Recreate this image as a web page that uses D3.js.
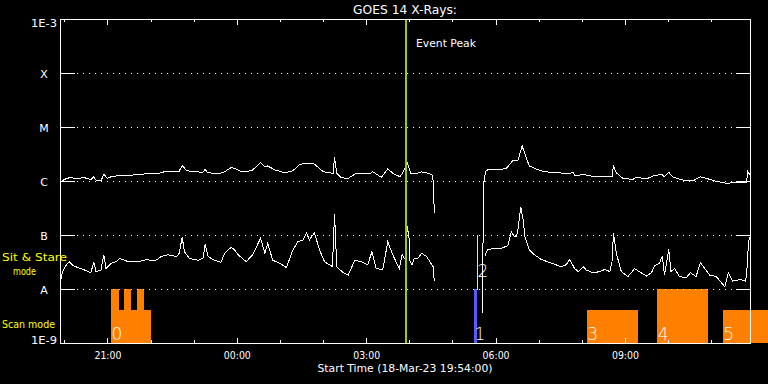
<!DOCTYPE html>
<html><head><meta charset="utf-8">
<script src="https://cdn.jsdelivr.net/npm/d3@7"></script>
<style>
html,body{margin:0;padding:0;background:#000;}
svg{display:block;}
text{font-family:"DejaVu Sans",sans-serif;fill:#fff;}
</style></head>
<body>
<script>
// ---------------- DATA ----------------
const chartTitle = "GOES 14 X-Rays:";
const xLabel = "Start Time (18-Mar-23 19:54:00)";
const startTime = "19:54", endTime = "11:54";
const tickLabels = ["21:00","00:00","03:00","06:00","09:00"];
const yTickValues = [1e-3,1e-4,1e-5,1e-6,1e-7,1e-8,1e-9];
const yTickLabels = ["1E-3","X","M","C","B","A","1E-9"];
const gridValues = [1e-4,1e-5,1e-6,1e-7,1e-8];

// GOES long channel (1-8 A), W/m^2 ; null = data gap
const longTime = ["19:55","20:00","20:07","20:19","20:28","20:37","20:41","20:44","20:51","20:55","21:00","21:05","21:17","21:29","21:42","21:52","22:06","22:15","22:22","22:31","22:40","22:44","22:50","23:01","23:13","23:16","23:19","23:29","23:36","23:43","23:52","23:57","00:04","00:13","00:22","00:33","00:39","00:43","00:53","01:07","01:18","01:28","01:37","01:48","02:00","02:14","02:16","02:19","02:25","02:35","02:46","03:05","03:09","03:21","03:30","03:37","03:47","03:51","03:57","03:58","04:02","04:07","04:17","04:26","04:32","04:33","04:34","04:35","05:00","05:42","05:43","05:46","05:49","06:08","06:15","06:20","06:24","06:31","06:37","06:43","06:47","06:57","07:08","07:22","07:41","07:48","07:50","08:04","08:11","08:30","08:42","08:44","08:48","08:57","09:11","09:16","09:30","09:39","09:51","09:55","10:01","10:07","10:21","10:35","10:45","10:53","11:07","11:21","11:35","11:49","11:51","11:54"];
const longFlux = [9.5e-7,1.07e-6,1.15e-6,1.12e-6,1.15e-6,1.07e-6,1.19e-6,1.04e-6,1.01e-6,1.33e-6,1.12e-6,1.20e-6,1.27e-6,1.27e-6,1.31e-6,1.35e-6,1.35e-6,1.42e-6,1.53e-6,1.53e-6,1.53e-6,1.95e-6,1.55e-6,1.49e-6,1.45e-6,1.67e-6,1.42e-6,1.39e-6,1.37e-6,1.49e-6,1.76e-6,1.72e-6,1.53e-6,1.47e-6,1.60e-6,2.18e-6,1.84e-6,1.90e-6,1.60e-6,1.42e-6,1.55e-6,2.04e-6,2.13e-6,2.06e-6,1.49e-6,1.39e-6,2.75e-6,1.39e-6,1.15e-6,1.12e-6,1.39e-6,1.35e-6,1.49e-6,1.17e-6,1.69e-6,1.39e-6,1.20e-6,1.42e-6,2.18e-6,1.98e-6,1.39e-6,1.35e-6,1.47e-6,1.39e-6,1.29e-6,1.04e-6,4.8e-7,2.6e-7,null,3.6e-9,8.1e-7,1.49e-6,1.60e-6,1.65e-6,1.72e-6,2.06e-6,2.38e-6,2.38e-6,4.45e-6,2.63e-6,1.90e-6,1.65e-6,1.49e-6,1.42e-6,1.39e-6,1.42e-6,1.27e-6,1.31e-6,1.24e-6,1.20e-6,1.20e-6,1.90e-6,1.42e-6,1.12e-6,1.07e-6,1.17e-6,1.09e-6,1.24e-6,1.33e-6,1.20e-6,1.45e-6,1.17e-6,1.04e-6,1.01e-6,1.20e-6,1.12e-6,9.9e-7,9.1e-7,9.3e-7,9.5e-7,1.49e-6,1.29e-6];

// GOES short channel (0.5-4 A), W/m^2 ; null = data gap
const shortTime = ["19:55","19:57","20:00","20:03","20:07","20:12","20:19","20:28","20:37","20:41","20:44","20:51","20:55","20:58","21:05","21:12","21:17","21:29","21:42","21:54","22:06","22:15","22:24","22:36","22:40","22:44","22:47","22:54","23:06","23:13","23:16","23:20","23:29","23:38","23:43","23:52","23:57","00:02","00:13","00:22","00:33","00:39","00:43","00:50","01:00","01:09","01:18","01:25","01:32","01:37","01:41","01:48","01:55","02:02","02:13","02:16","02:19","02:28","02:35","02:44","02:53","03:02","03:08","03:14","03:23","03:30","03:37","03:46","03:50","03:55","03:57","04:00","04:01","04:04","04:07","04:12","04:17","04:24","04:30","04:33","04:34","04:35","05:00","05:46","05:47","05:49","05:59","06:08","06:17","06:22","06:26","06:29","06:31","06:35","06:38","06:41","06:47","06:54","07:04","07:18","07:31","07:38","07:43","07:50","07:55","08:02","08:06","08:16","08:25","08:32","08:39","08:42","08:44","08:48","08:55","09:04","09:09","09:13","09:20","09:30","09:37","09:41","09:48","09:52","09:55","10:01","10:04","10:09","10:16","10:25","10:31","10:39","10:45","10:51","10:58","11:07","11:19","11:24","11:30","11:40","11:48","11:50","11:52","11:54"];
const shortFlux = [1.4e-8,2.0e-8,2.4e-8,2.8e-8,3.2e-8,2.7e-8,2.5e-8,2.25e-8,2.0e-8,3.2e-8,2.1e-8,2.25e-8,4.3e-8,2.4e-8,3.0e-8,3.2e-8,3.7e-8,3.2e-8,3.2e-8,3.5e-8,3.3e-8,4.0e-8,4.3e-8,4.0e-8,4.6e-8,9.3e-8,4.9e-8,3.7e-8,3.4e-8,3.7e-8,6.8e-8,4.0e-8,3.4e-8,3.1e-8,4.6e-8,5.9e-8,5.3e-8,4.3e-8,3.2e-8,4.3e-8,8.7e-8,4.6e-8,7.0e-8,3.4e-8,3.0e-8,2.5e-8,5.3e-8,7.5e-8,8.1e-8,1.1e-7,8.1e-8,1.1e-7,5.3e-8,3.2e-8,2.6e-8,2.45e-7,2.6e-8,2.0e-8,1.8e-8,3.4e-8,3.2e-8,2.8e-8,4.9e-8,2.4e-8,2.25e-8,7.5e-8,4.3e-8,2.4e-8,4.3e-8,3.4e-8,1.47e-7,8.1e-8,3.2e-8,2.8e-8,3.7e-8,3.7e-8,4.6e-8,4.0e-8,3.0e-8,2.6e-8,1.7e-8,1.4e-8,null,4.0e-8,4.9e-8,5.3e-8,5.7e-8,5.7e-8,6.3e-8,1.15e-7,9.3e-8,9.3e-8,1.24e-7,3.3e-7,2.04e-7,9.3e-8,5.3e-8,4.3e-8,3.5e-8,3.0e-8,2.6e-8,2.8e-8,3.5e-8,2.4e-8,2.1e-8,2.6e-8,2.25e-8,2.0e-8,2.1e-8,2.3e-8,2.1e-8,3.2e-8,1.07e-7,4.6e-8,2.1e-8,1.7e-8,2.0e-8,2.4e-8,2.1e-8,1.74e-8,2.0e-8,2.7e-8,3.0e-8,4.1e-8,1.8e-8,5.4e-8,2.1e-8,2.4e-8,1.7e-8,1.6e-8,2.0e-8,1.7e-8,3.1e-8,2.4e-8,1.8e-8,1.7e-8,1.1e-8,2.0e-8,1.4e-8,1.5e-8,1.4e-8,2.6e-8,7.5e-8,9.3e-8];

// Observation timeline (modes)
const scanStart = ["21:05","08:07","11:16"];
const scanEnd   = ["22:01","09:18","12:19"];
const stareStart = ["21:05","21:23","21:41","09:45"];
const stareEnd   = ["21:16","21:33","21:51","10:56"];
const scanLevel = 4e-9, stareLevel = 1e-8;
const otherStart = ["05:30"], otherEnd = ["05:34"];
const markerTime = "05:34", markerLow = 1e-8, markerHigh = 1e-7;
const obsLabels = ["0","1","2","3","4","5"];
const obsLabelTime = ["21:05","05:30","05:34","08:07","09:45","11:16"];
const obsLabelFlux = [1.1e-9,1.1e-9,1.6e-8,1.1e-9,1.1e-9,1.1e-9];
const eventPeakTime = "03:55";
const eventPeakText = "Event Peak";
const modeLabels = ["Sit & Stare","mode","Scan mode"];

// ---------------- DRAW ----------------
function toDate(s){const [h,m]=s.split(":").map(Number);return new Date(2023,2,h>=19?18:19,h,m);}
const W=768,H=384;
const svg=d3.select("body").append("svg").attr("width",W).attr("height",H);
svg.append("rect").attr("width",W).attr("height",H).attr("fill","#000");

const x=d3.scaleTime().domain([toDate(startTime),toDate(endTime)]).range([60,750]);
const y=d3.scaleLog().domain([1e-9,1e-3]).range([343,19]);
const ORANGE="#ff8000";

// mode blocks
const scanG=svg.append("g").attr("shape-rendering","crispEdges");
scanStart.forEach((s,i)=>{
  const x0=Math.round(x(toDate(s))), x1=Math.round(x(toDate(scanEnd[i])));
  scanG.append("rect").attr("x",x0).attr("y",Math.round(y(scanLevel))).attr("width",x1-x0).attr("height",343-Math.round(y(scanLevel))).attr("fill",ORANGE);
});
stareStart.forEach((s,i)=>{
  const x0=Math.round(x(toDate(s))), x1=Math.round(x(toDate(stareEnd[i])));
  scanG.append("rect").attr("x",x0).attr("y",Math.round(y(stareLevel))).attr("width",x1-x0).attr("height",343-Math.round(y(stareLevel))).attr("fill",ORANGE);
});
otherStart.forEach((s,i)=>{
  const x0=Math.round(x(toDate(s))), x1=Math.round(x(toDate(otherEnd[i])));
  scanG.append("rect").attr("x",x0).attr("y",Math.round(y(stareLevel))).attr("width",x1-x0).attr("height",343-Math.round(y(stareLevel))).attr("fill","#5a5aff");
});
svg.append("line").attr("shape-rendering","crispEdges")
  .attr("x1",Math.round(x(toDate(markerTime)))+0.5).attr("x2",Math.round(x(toDate(markerTime)))+0.5)
  .attr("y1",y(markerHigh)).attr("y2",y(markerLow)+1).attr("stroke","#ffff00");

// gridlines
const gg=svg.append("g").attr("shape-rendering","crispEdges").attr("stroke","#fff");
gridValues.forEach(v=>{
  const yy=Math.round(y(v))+0.5;
  gg.append("line").attr("x1",60).attr("x2",75).attr("y1",yy).attr("y2",yy);
  gg.append("line").attr("x1",736).attr("x2",750).attr("y1",yy).attr("y2",yy);
  gg.append("line").attr("x1",77).attr("x2",736).attr("y1",yy).attr("y2",yy).attr("stroke-dasharray","1 5");
});

// curves
const line=d3.line().defined(d=>d[1]!=null).x(d=>x(d[0])).y(d=>y(d[1]));
const longData=longTime.map((t,i)=>[toDate(t),longFlux[i]]);
const shortData=shortTime.map((t,i)=>[toDate(t),shortFlux[i]]);
[longData,shortData].forEach(d=>{
  svg.append("path").datum(d).attr("d",line).attr("fill","none").attr("stroke","#fff").attr("stroke-width",1).attr("shape-rendering","crispEdges");
});

// event peak
const ex=Math.round(x(toDate(eventPeakTime)));
svg.append("rect").attr("x",ex-1).attr("y",19).attr("width",2).attr("height",324).attr("fill","#9acd00");
svg.append("text").attr("x",ex+10).attr("y",47).attr("font-size",10.5).attr("textLength",60).attr("lengthAdjust","spacingAndGlyphs").text(eventPeakText);

// frame
svg.append("rect").attr("x",60.5).attr("y",19.5).attr("width",690).attr("height",324)
  .attr("fill","none").attr("stroke","#fff").attr("shape-rendering","crispEdges");

// time axes
const majorTicks=tickLabels.map(toDate);
const minorTicks=d3.timeHour.range(toDate(startTime),toDate(endTime));
function styleAxis(g){g.select(".domain").remove();g.selectAll("line").attr("stroke","#fff").attr("shape-rendering","crispEdges");}
svg.append("g").attr("transform","translate(0,343)").call(d3.axisBottom(x).tickValues(minorTicks).tickSizeInner(-3).tickSizeOuter(0).tickFormat("")).call(styleAxis);
const bot=svg.append("g").attr("transform","translate(0,343)").call(d3.axisBottom(x).tickValues(majorTicks).tickSizeInner(-5).tickSizeOuter(0).tickFormat(d3.timeFormat("%H:%M"))).call(styleAxis);
bot.selectAll("text").attr("y",16).attr("dy",0).attr("fill","#fff").attr("font-size",10).attr("font-family","DejaVu Sans").attr("textLength",27).attr("lengthAdjust","spacingAndGlyphs");
svg.append("g").attr("transform","translate(0,19)").call(d3.axisTop(x).tickValues(minorTicks).tickSizeInner(-3).tickSizeOuter(0).tickFormat("")).call(styleAxis);
svg.append("g").attr("transform","translate(0,19)").call(d3.axisTop(x).tickValues(majorTicks).tickSizeInner(-6).tickSizeOuter(0).tickFormat("")).call(styleAxis);

// y labels
yTickValues.forEach((v,i)=>{
  const yy=y(v);
  const numeric=yTickLabels[i].length>1;
  const dy=i===0?8:(i===yTickValues.length-1?1:4.5);
  svg.append("text").attr("x",numeric?57:44).attr("y",yy+dy)
    .attr("text-anchor",numeric?"end":"middle").attr("font-size",11)
    .attr("textLength",numeric?26:null).attr("lengthAdjust","spacingAndGlyphs")
    .text(yTickLabels[i]);
});

// mode labels
svg.append("text").attr("x",2).attr("y",261).attr("font-size",10.5).style("fill","#ffff00").attr("textLength",65).attr("lengthAdjust","spacingAndGlyphs").text(modeLabels[0]);
svg.append("text").attr("x",13).attr("y",275).attr("font-size",10.5).style("fill","#ffff00").attr("textLength",23).attr("lengthAdjust","spacingAndGlyphs").text(modeLabels[1]);
svg.append("text").attr("x",2).attr("y",328).attr("font-size",10.5).style("fill","#ffff00").attr("textLength",53).attr("lengthAdjust","spacingAndGlyphs").text(modeLabels[2]);

// observation labels
obsLabels.forEach((l,i)=>{
  svg.append("text").attr("x",x(toDate(obsLabelTime[i]))+0.5).attr("y",y(obsLabelFlux[i])-1)
    .attr("font-size",17).attr("font-weight",200).text(l);
});

// title & x label
svg.append("text").attr("x",405).attr("y",14).attr("text-anchor","middle").attr("font-size",12).attr("textLength",104).attr("lengthAdjust","spacingAndGlyphs").text(chartTitle);
svg.append("text").attr("x",405).attr("y",371.5).attr("text-anchor","middle").attr("font-size",10).attr("textLength",175).attr("lengthAdjust","spacingAndGlyphs").text(xLabel);
</script>
</body></html>
